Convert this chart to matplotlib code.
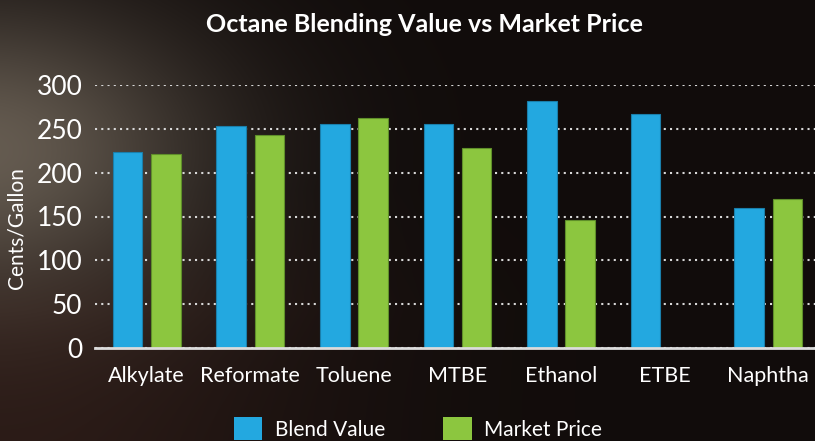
import numpy as np
import matplotlib.pyplot as plt
from matplotlib.patches import Patch

# données (cents/gallon)
categories = ["Alkylate", "Reformate", "Toluene", "MTBE", "Ethanol", "ETBE", "Naphtha"]
blend_value = [224, 253, 255, 255, 282, 267, 160]
market_price = [221, 243, 262, 228, 146, np.nan, 170]
y_ticks = [0, 50, 100, 150, 200, 250, 300]

BLUE = "#23a8e0"
GREEN = "#8cc63f"

plt.rcParams['font.family'] = ['Lato', 'DejaVu Sans']

fig = plt.figure(figsize=(8.15, 4.41), dpi=100)

# fond sombre façon photo (lueur à gauche)
bg = fig.add_axes([0, 0, 1, 1], zorder=-10)
h, w = 441, 815
yy, xx = np.mgrid[0:h, 0:w]
base = np.array([17, 12, 11], dtype=float)
glow = np.exp(-(((xx + 20) / 230.0) ** 2 + ((yy - 150) / 150.0) ** 2))
glow_col = np.array([110, 100, 88], dtype=float)
lower = np.clip((yy - 190) / 120.0, 0, 1) * np.exp(-((xx / 320.0) ** 2))
lower_col = np.array([42, 26, 22], dtype=float)
img = base[None, None, :] * np.ones((h, w, 1))
img = img + (glow_col - base)[None, None, :] * glow[..., None] * 0.9
img = img + (lower_col - base)[None, None, :] * lower[..., None] * (1 - glow[..., None])
bg.imshow(np.clip(img, 0, 255).astype(np.uint8), aspect='auto', extent=[0, 1, 0, 1])
bg.axis('off')

ax = fig.add_axes([95 / 815, 1 - 348 / 441, 725 / 815, (348 - 85) / 441])
ax.patch.set_alpha(0)

x = np.arange(len(categories))
bw = 0.285
off = 0.185
ax.bar(x - off, blend_value, bw, color=BLUE, edgecolor="#1a7fab", linewidth=0.8, zorder=3)
ax.bar(x + off, market_price, bw, color=GREEN, edgecolor="#5f8f2a", linewidth=0.8, zorder=3)

ax.set_xlim(-0.5, len(categories) - 0.5)
ax.set_ylim(0, 300)
ax.set_yticks(y_ticks)
ax.set_xticks(x)
ax.set_xticklabels(categories)

ax.yaxis.grid(True, color="#d8d8d8", linestyle=(0, (1, 2)), linewidth=1.5, zorder=1)
ax.set_axisbelow(True)
for s in ["top", "right", "left"]:
    ax.spines[s].set_visible(False)
ax.spines["bottom"].set_color("#dcdcdc")
ax.spines["bottom"].set_linewidth(2)
ax.spines["bottom"].set_zorder(4)

ax.tick_params(axis='y', length=0, pad=9, labelsize=19, labelcolor="white")
ax.tick_params(axis='x', length=0, pad=13, labelsize=15.5, labelcolor="white")

ax.set_ylabel("Cents/Gallon", color="white", fontsize=15)
ax.yaxis.set_label_coords(-0.094, 0.456)

fig.text(424 / 815, 1 - 25 / 441, "Octane Blending Value vs Market Price",
         ha='center', va='center', color="white", fontsize=18, fontweight='bold')

handles = [Patch(facecolor=BLUE, label="Blend Value"),
           Patch(facecolor=GREEN, label="Market Price")]
leg = fig.legend(handles=handles, loc='center', bbox_to_anchor=(0.513, 0.028), ncol=2,
                 frameon=False, fontsize=15, labelcolor="white",
                 handlelength=1.35, handleheight=1.35, handletextpad=0.62, columnspacing=2.8)

plt.savefig("out.png", dpi=100)
